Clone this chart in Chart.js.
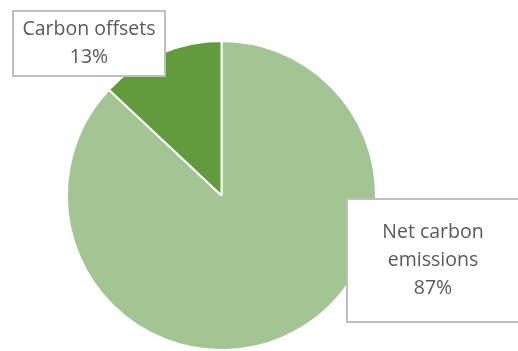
<!DOCTYPE html>
<html>
<head>
<meta charset="utf-8">
<script src="https://cdn.jsdelivr.net/npm/chart.js@4.4.0/dist/chart.umd.min.js"></script>
<style>
  body { margin: 0; background: #fff; }
  #wrap { width: 518px; height: 351px; position: relative; }
</style>
</head>
<body>
<div id="wrap"><canvas id="pieChart"></canvas></div>
<script>
// data
var labels = ['Net carbon emissions', 'Carbon offsets'];
var values = [87, 13];
var colors = ['#a3c594', '#629b3d'];

// label boxes (excel style callouts)
var labelBoxes = [
  { lines: ['Net carbon', 'emissions', '87%'], x: 347, y: 199, w: 172, h: 123 },
  { lines: ['Carbon offsets', '13%'], x: 13, y: 11, w: 152, h: 65 }
];

var boxPlugin = {
  id: 'boxes',
  afterDraw: function(chart) {
    var ctx = chart.ctx;
    ctx.save();
    labelBoxes.forEach(function(b) {
      ctx.fillStyle = '#fff';
      ctx.fillRect(b.x, b.y, b.w, b.h);
      ctx.strokeStyle = '#bfbfbf';
      ctx.lineWidth = 2;
      ctx.strokeRect(b.x, b.y, b.w, b.h);
      ctx.fillStyle = '#595959';
      ctx.font = '19.5px "Open Sans"';
      ctx.textAlign = 'center';
      ctx.textBaseline = 'middle';
      var lh = 28;
      var cy = b.y + b.h / 2 - (b.lines.length - 1) * lh / 2;
      b.lines.forEach(function(t, i) {
        ctx.fillText(t, b.x + b.w / 2, cy + i * lh);
      });
    });
    ctx.restore();
  }
};

var ctx = document.getElementById('pieChart').getContext('2d');
var pieChart = new Chart(ctx, {
  type: 'pie',
  data: {
    labels: labels,
    datasets: [{
      data: values,
      backgroundColor: colors,
      borderColor: '#ffffff',
      borderWidth: 2
    }]
  },
  options: {
    responsive: true,
    maintainAspectRatio: false,
    animation: false,
    layout: { padding: { left: 66, right: 141, top: 40, bottom: 0 } },
    plugins: {
      legend: { display: false },
      tooltip: { enabled: false }
    }
  },
  plugins: [boxPlugin]
});
</script>
</body>
</html>
